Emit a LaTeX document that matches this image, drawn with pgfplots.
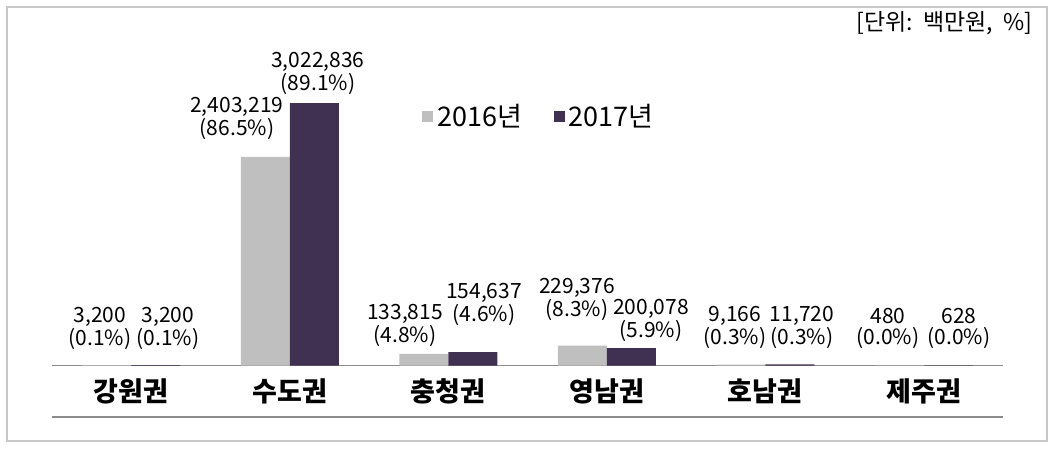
\documentclass[border=0pt]{standalone}
\usepackage{fontspec}
\setmainfont{Noto Sans CJK KR}
\usepackage{pgfplots}
\pgfplotsset{compat=1.18}
\definecolor{cA}{HTML}{BFBFBF}
\definecolor{cB}{HTML}{403152}
\definecolor{frm}{HTML}{C8C8C8}
\definecolor{axl}{HTML}{8C8C8C}
\begin{document}
\begin{tikzpicture}
\path[use as bounding box] (0,0) rectangle (527.5pt,226pt);
\draw[frm, line width=1pt] (3.5pt,5.5pt) rectangle (523.5pt,222.5pt);
\node[anchor=north east, font=\fontsize{11.5}{13}\selectfont, inner sep=0pt] at (516.5pt,220.5pt) {[단위:\ \ 백만원,\ \ \%]};
\begin{axis}[
  at={(26pt,43.25pt)}, anchor=south west,
  scale only axis, width=475.5pt, height=162.75pt,
  xmin=-0.5, xmax=5.5, ymin=0, ymax=3748400,
  ybar=0pt, bar width=24.5pt,
  axis x line=bottom, axis y line=none,
  x axis line style={draw=axl, line width=0.75pt, -},
  xtick={0,1,2,3,4,5},
  xticklabels={강원권,수도권,충청권,영남권,호남권,제주권},
  major tick length=0pt,
  xticklabel style={font=\bfseries\fontsize{13.5}{15}\selectfont, anchor=center, yshift=-12.75pt},
  clip=false,
  legend style={at={(0.513,0.765)}, anchor=center, draw=none, fill=none,
    legend columns=2, font=\fontsize{13.5}{15}\selectfont,
    /tikz/every even column/.append style={column sep=14pt}},
  legend image code/.code={\fill[#1] (0pt,-2.75pt) rectangle (5.5pt,2.75pt);},
]
\addplot[fill=cA, draw=none] coordinates {(0,3200) (1,2403219) (2,133815) (3,229376) (4,9166) (5,480)};
\addplot[fill=cB, draw=none] coordinates {(0,3200) (1,3022836) (2,154637) (3,200078) (4,11720) (5,628)};
\legend{2016년,2017년}
\tikzset{lbl/.style={anchor=south, align=center, inner sep=0pt, font=\fontsize{10.5}{10.5}\selectfont}}
\node[lbl, yshift=7.75pt] at (axis cs:-0.197,0) {3,200\\(0.1\%)};
\node[lbl, yshift=7.75pt] at (axis cs:0.232,0) {3,200\\(0.1\%)};
\node[lbl, yshift=112.75pt] at (axis cs:0.667,0) {2,403,219\\(86.5\%)};
\node[lbl, yshift=135.25pt] at (axis cs:1.178,0) {3,022,836\\(89.1\%)};
\node[lbl, yshift=9.25pt] at (axis cs:1.727,0) {133,815\\(4.8\%)};
\node[lbl, yshift=19.75pt] at (axis cs:2.226,0) {154,637\\(4.6\%)};
\node[lbl, yshift=22.25pt] at (axis cs:2.812,0) {229,376\\(8.3\%)};
\node[lbl, yshift=11.75pt] at (axis cs:3.279,0) {200,078\\(5.9\%)};
\node[lbl, yshift=8.25pt] at (axis cs:3.809,0) {9,166\\(0.3\%)};
\node[lbl, yshift=8.25pt] at (axis cs:4.232,0) {11,720\\(0.3\%)};
\node[lbl, yshift=8.25pt] at (axis cs:4.774,0) {480\\(0.0\%)};
\node[lbl, yshift=8.25pt] at (axis cs:5.222,0) {628\\(0.0\%)};
\end{axis}
\draw[axl, line width=0.75pt] (26pt,17.5pt) -- (501.5pt,17.5pt);
\end{tikzpicture}
\end{document}
